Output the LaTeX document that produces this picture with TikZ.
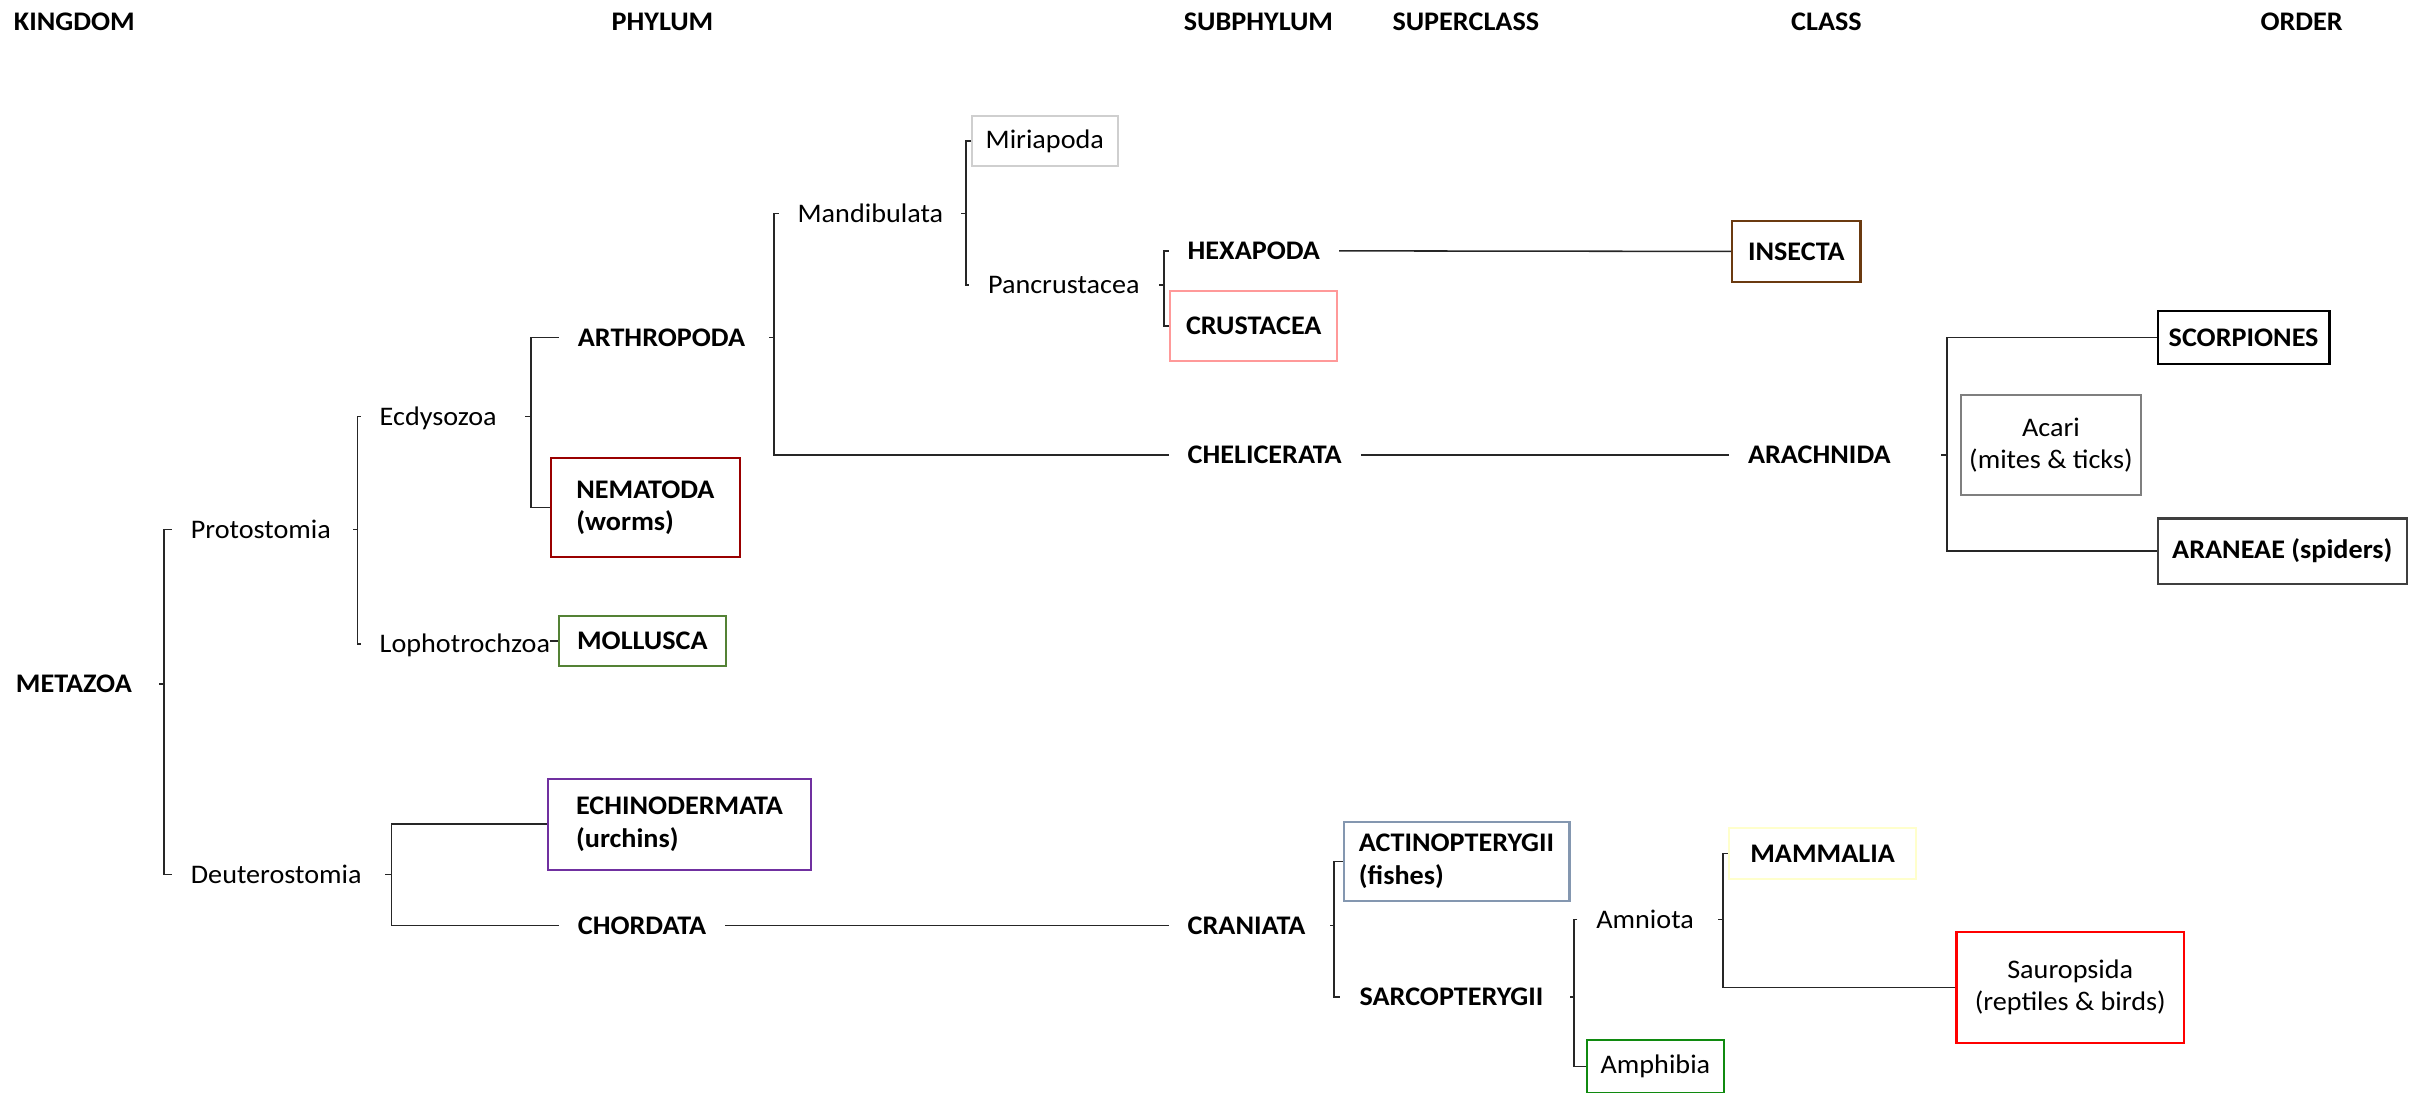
\documentclass[tikz,border=0pt]{standalone}
\usepackage{fontspec}
\setmainfont{Carlito}[FakeStretch=1.05]
\usetikzlibrary{positioning}

\definecolor{miriGray}{HTML}{CFCFCF}
\definecolor{nemaRed}{HTML}{9A0000}
\definecolor{mollGreen}{HTML}{548235}
\definecolor{crusPink}{HTML}{FF9999}
\definecolor{insBrown}{HTML}{6B3A10}
\definecolor{acariGray}{HTML}{7F7F7F}
\definecolor{araGray}{HTML}{3F3F3F}
\definecolor{echPurple}{HTML}{7030A0}
\definecolor{actBlue}{HTML}{8497B0}
\definecolor{mamYellow}{HTML}{FFFFCC}
\definecolor{sauRed}{HTML}{FF0000}
\definecolor{amphGreen}{HTML}{108A10}

\newcommand{\taxfont}{\fontsize{10.4}{12.6}\selectfont}

\tikzset{
	head/.style={font=\taxfont\bfseries, inner sep=0pt},
	taxon/.style={anchor=west, inner xsep=7.2pt, inner ysep=0pt, text height=6.8pt, text depth=0pt, font=\taxfont},
	strong/.style={font=\taxfont\bfseries},
	box/.style={draw, line width=0.8pt, inner sep=2pt, font=\taxfont},
	link/.style={draw=black!85, line width=0.6pt}
}

\begin{document}
\begin{tikzpicture}[x=0.6pt, y=-0.6pt]
	\useasboundingbox (0,0) rectangle (1568,706);

	\node[head] (hKingdom) at (48,14) {KINGDOM};
	\node[head] (hPhylum) at (428,14) {PHYLUM};
	\node[head] (hSubphylum) at (813,14) {SUBPHYLUM};
	\node[head] (hSuperclass) at (947,14) {SUPERCLASS};
	\node[head] (hClass) at (1180,14) {CLASS};
	\node[head] (hOrder) at (1487,14) {ORDER};

	\node[taxon, strong] (meta) at (-2,442) {METAZOA};
	\node[taxon] (proto) at (111,342) {Protostomia};
	\node[taxon] (deut) at (111,565) {Deuterostomia};
	\node[taxon] (ecdy) at (233,269) {Ecdysozoa};
	\node[taxon] (lopho) at (233,416) {Lophotrochzoa};
	\node[taxon, strong] (arthro) at (361,218) {ARTHROPODA};
	\node[taxon] (mandi) at (503,138) {Mandibulata};
	\node[taxon] (pancr) at (626,184) {Pancrustacea};
	\node[taxon, strong] (hexa) at (755,162) {HEXAPODA};
	\node[taxon, strong] (chel) at (755,294) {CHELICERATA};
	\node[taxon, strong] (arach) at (1117,294) {ARACHNIDA};
	\node[taxon, strong] (chord) at (361,598) {CHORDATA};
	\node[taxon, strong] (cran) at (755,598) {CRANIATA};
	\node[taxon, strong] (sarco) at (866,644) {SARCOPTERYGII};
	\node[taxon] (amnio) at (1019,594) {Amniota};

	\node[box, draw=miriGray, minimum width=56.4pt, minimum height=19.2pt] (miri) at (675,91) {Miriapoda};
	\node[box, draw=nemaRed, align=left, font=\taxfont\bfseries, minimum width=73.2pt, minimum height=38.4pt] (nema) at (417,328) {NEMATODA\\(worms)};
	\node[box, draw=mollGreen, font=\taxfont\bfseries, minimum width=64.8pt, minimum height=19.2pt] (moll) at (415,414) {MOLLUSCA};
	\node[box, draw=crusPink, font=\taxfont\bfseries, minimum width=64.8pt, minimum height=27pt] (crus) at (810,210.5) {CRUSTACEA};
	\node[box, draw=insBrown, font=\taxfont\bfseries, minimum width=49.8pt, minimum height=23.4pt] (insecta) at (1160.5,162.5) {INSECTA};
	\node[box, draw=black, font=\taxfont\bfseries, minimum width=66.6pt, minimum height=20.4pt] (scorp) at (1449.5,218) {SCORPIONES};
	\node[box, draw=acariGray, align=center, minimum width=69.6pt, minimum height=39pt] (acari) at (1325,287.5) {Acari\\(mites \& ticks)};
	\node[box, draw=araGray, font=\taxfont\bfseries, minimum width=96.6pt, minimum height=25.2pt] (aran) at (1474.5,356) {ARANEAE (spiders)};
	\node[box, draw=echPurple, align=left, font=\taxfont\bfseries, minimum width=102pt, minimum height=35.4pt] (echino) at (439,532.5) {ECHINODERMATA\\(urchins)};
	\node[box, draw=actBlue, align=left, font=\taxfont\bfseries, minimum width=87.6pt, minimum height=30.6pt] (actino) at (941,556.5) {ACTINOPTERYGII\\(fishes)};
	\node[box, draw=mamYellow, font=\taxfont\bfseries, minimum width=72.6pt, minimum height=19.8pt] (mamm) at (1177.5,551.5) {MAMMALIA};
	\node[box, draw=sauRed, align=center, minimum width=88.2pt, minimum height=43.2pt] (saur) at (1337.5,638) {Sauropsida\\(reptiles \& birds)};
	\node[box, draw=amphGreen, minimum width=53.4pt, minimum height=20.4pt] (amphi) at (1069.5,689) {Amphibia};

	\coordinate (jMeta) at (106,442);
	\coordinate (jProto) at (231,342);
	\coordinate (jEcdy) at (343,269);
	\coordinate (jArthro) at (500,218);
	\coordinate (jMandi) at (624,138);
	\coordinate (jPancr) at (752,184);
	\coordinate (jArach) at (1258,294);
	\coordinate (jDeut) at (253,565);
	\coordinate (jCran) at (862,598);
	\coordinate (jSarco) at (1017,644);
	\coordinate (jAmnio) at (1113,594);

	\draw[link] (proto.west) -| (jMeta) |- (deut.west) (jMeta) -- ++(-3,0);
	\draw[link] (ecdy.west) -| (jProto) |- (lopho.west) (jProto) -- ++(-3,0);
	\draw[link] (arthro.west) -| (jEcdy) |- (nema.west) (jEcdy) -- ++(-4,0);
	\draw[link] (moll.west) -- ++(-5,0);
	\draw[link] (mandi.west) -| (jArthro) |- (chel.west) (jArthro) -- ++(-3,0);
	\draw[link] (miri.west) -| (jMandi) |- (pancr.west) (jMandi) -- ++(-3,0);
	\draw[link] (hexa.west) -| (jPancr) |- (crus.west) (jPancr) -- ++(-3,0);
	\draw[link] (hexa) -- (insecta);
	\draw[link] (chel) -- (arach);
	\draw[link] (scorp.west) -| (jArach) |- (aran.west) (jArach) -- ++(-4,0);
	\draw[link] (echino.west) -| (jDeut) |- (chord.west) (jDeut) -- ++(-4,0);
	\draw[link] (chord) -- (cran);
	\draw[link] (actino.west) -| (jCran) |- (sarco.west) (jCran) -- ++(-3,0);
	\draw[link] (amnio.west) -| (jSarco) |- (amphi.west) (jSarco) -- ++(-3,0);
	\draw[link] (mamm.west) -| (jAmnio) |- (saur.west) (jAmnio) -- ++(-3,0);
\end{tikzpicture}
\end{document}
